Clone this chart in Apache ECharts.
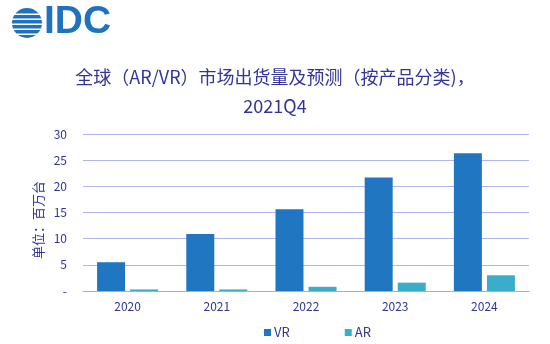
<!DOCTYPE html>
<html><head><meta charset="utf-8">
<script src="https://cdn.jsdelivr.net/npm/echarts@6/dist/echarts.min.js"></script>
<style>html,body{margin:0;padding:0;background:#fff}#c{width:550px;height:344px}</style>
</head><body><div id="c"></div>
<script>
const categories = ['2020','2021','2022','2023','2024'];
const vrValues = [5.5, 10.9, 15.6, 21.7, 26.3];
const arValues = [0.3, 0.3, 0.8, 1.6, 3.0];
const yTicks = ['-', '5', '10', '15', '20', '25', '30'];
const titleLines = ['全球（AR/VR）市场出货量及预测（按产品分类)，', '2021Q4'];
const yName = '单位：百万台';

const navy = '#33339a';
const chart = echarts.init(document.getElementById('c'));
const stripes = [];
[13.5, 18.5, 23.5, 28.5, 33.5].forEach(y => {
  stripes.push({type:'rect', shape:{x:10, y:y, width:36, height:1.6}, style:{fill:'#fff'}});
});
chart.setOption({
  animation: false,
  textStyle: {fontFamily: '"Noto Sans CJK SC", "Noto Sans", sans-serif'},
  title: {
    text: titleLines.join('\n'),
    left: 270, top: 58, textAlign: 'center',
    textStyle: {fontSize: 18, fontWeight: 'normal', color: navy, lineHeight: 29,
      fontFamily: '"Noto Sans CJK SC", sans-serif'}
  },
  graphic: [
    {type:'circle', shape:{cx:27, cy:23, r:15}, style:{fill:'#1f72c0'}},
    ...stripes,
    {type:'text', left: 44, top: 3, style:{text:'IDC', fill:'#1f72c0', fontSize: 39, fontWeight:'bold',
      fontFamily:'"Liberation Sans", Arial, sans-serif'}},
    {type:'text', x: 38, y: 220, rotation: Math.PI/2, style:{text: yName, fill: navy, fontSize: 13,
      align:'center', verticalAlign:'middle', fontFamily:'"Noto Sans CJK SC", sans-serif'}}
  ],
  legend: {
    data: ['VR','AR'], bottom: 0, left: 259, itemGap: 55,
    itemWidth: 7, itemHeight: 7, icon: 'rect',
    textStyle: {color: navy, fontSize: 13, padding:[0,0,0,-2]}
  },
  grid: {left: 83, right: 21, top: 134, bottom: 53},
  xAxis: {
    type: 'category', data: categories,
    axisLine: {lineStyle: {color: '#a9a9ea'}},
    axisTick: {show: false},
    axisLabel: {color: navy, fontSize: 12, margin: 9}
  },
  yAxis: {
    type: 'value', min: 0, max: 30, interval: 5,
    axisLine: {show: false}, axisTick: {show: false},
    splitLine: {lineStyle: {color: '#b4b4ee'}},
    axisLabel: {color: navy, fontSize: 12, margin: 16,
      formatter: (v) => yTicks[Math.round(v/5)]}
  },
  series: [
    {name:'VR', type:'bar', data: vrValues, barWidth: 28, barGap: '18%', itemStyle:{color:'#2176c1'}},
    {name:'AR', type:'bar', data: arValues, barWidth: 28, itemStyle:{color:'#39aecb'}}
  ]
});
</script></body></html>
